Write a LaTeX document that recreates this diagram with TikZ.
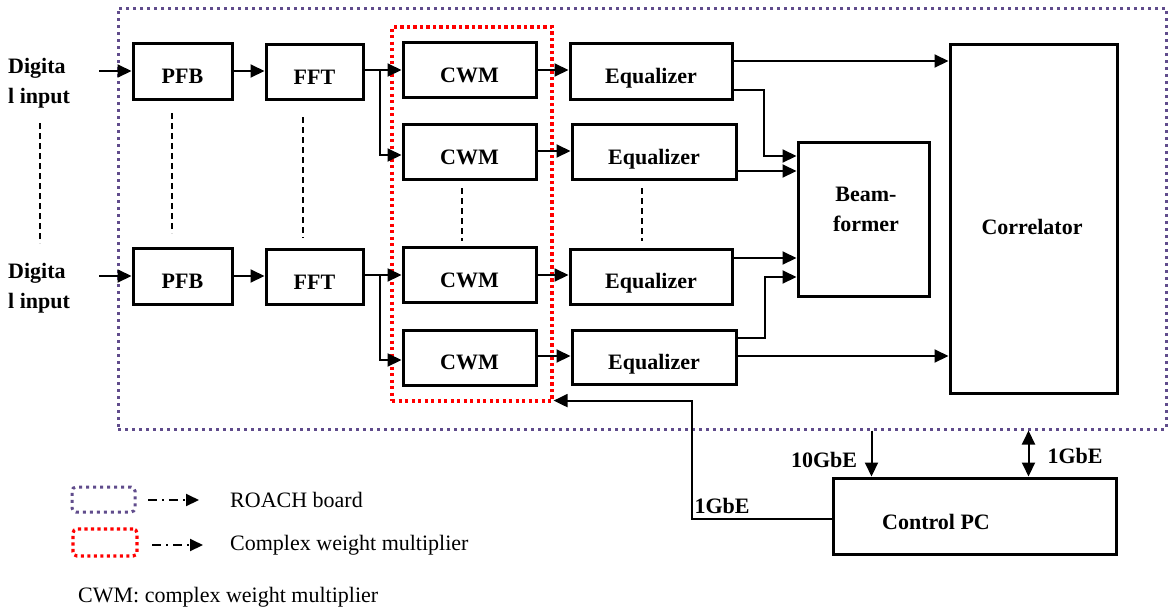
\documentclass[tikz,border=0pt]{standalone}
\usepackage{fontspec}
\setmainfont{Liberation Serif}
\usetikzlibrary{arrows.meta,calc}
\definecolor{roachc}{RGB}{96,76,140}
\definecolor{cwmred}{RGB}{255,0,0}
\begin{document}
\begin{tikzpicture}[x=1pt,y=-1pt,
  box/.style={draw, line width=3pt, inner sep=0pt, text height=24pt, text depth=0pt, font=\fontsize{22}{30}\selectfont\bfseries},
  lbl/.style={inner sep=0pt, font=\fontsize{22}{30}\selectfont\bfseries},
  rlbl/.style={inner sep=0pt, font=\fontsize{22}{30}\selectfont},
  tip/.style={Triangle[length=14pt,width=13pt]},
  conn/.style={line width=2pt, -{Triangle[length=14pt,width=13pt]}},
  dconn/.style={line width=2pt, {Triangle[length=14pt,width=13pt]}-{Triangle[length=14pt,width=13pt]}},
  vdash/.style={line width=1.5pt, dash pattern=on 6pt off 4pt},
  roachline/.style={draw=roachc, line width=3pt, dash pattern=on 3pt off 4pt},
  redline/.style={draw=cwmred, line width=3.2pt, dash pattern=on 3.2pt off 3.3pt},
  legarrow/.style={line width=2pt, dash pattern=on 9pt off 5pt on 2pt off 5pt, -{Triangle[length=13pt,width=12pt]}}
]
\useasboundingbox (0,0) rectangle (1169,614);

% group boxes
\node[roachline, minimum width=1048pt, minimum height=421pt, inner sep=0pt] (roach) at (642,218.5) {};
\node[redline, minimum width=160pt, minimum height=374pt, inner sep=0pt] (cwmgrp) at (472,214) {};

% inputs
\node[lbl, anchor=west, align=left] (din1) at (8,83) {Digita\\l input};
\node[lbl, anchor=west, align=left] (din2) at (8,288) {Digita\\l input};
\coordinate (in1) at (99,71);
\coordinate (in2) at (99,276);

% blocks
\node[box, minimum width=99pt, minimum height=56pt] (pfb1) at (182.5,71) {PFB};
\node[box, minimum width=97pt, minimum height=55pt] (fft1) at (314.5,72) {FFT};
\node[box, minimum width=99pt, minimum height=56pt] (pfb2) at (182.5,276) {PFB};
\node[box, minimum width=97pt, minimum height=55pt] (fft2) at (314.5,277) {FFT};

\node[box, minimum width=133pt, minimum height=55pt] (cwm1) at (469.5,70) {CWM};
\node[box, minimum width=133pt, minimum height=55pt] (cwm2) at (469.5,152) {CWM};
\node[box, minimum width=133pt, minimum height=55pt] (cwm3) at (469.5,275) {CWM};
\node[box, minimum width=133pt, minimum height=55pt] (cwm4) at (469.5,357.5) {CWM};

\node[box, minimum width=162pt, minimum height=56pt] (eq1) at (651,71) {Equalizer};
\node[box, minimum width=164pt, minimum height=55pt] (eq2) at (654,152) {Equalizer};
\node[box, minimum width=162pt, minimum height=55pt] (eq3) at (651,276.5) {Equalizer};
\node[box, minimum width=164pt, minimum height=54pt] (eq4) at (654,357.5) {Equalizer};

\node[box, minimum width=131pt, minimum height=154pt] (bf) at (863.5,219) {};
\node[lbl, align=center] (bftext) at (866,209) {Beam-\\former};
\node[box, minimum width=167pt, minimum height=349pt] (corr) at (1033.5,218.5) {};
\node[lbl] (corrtext) at (1032,227) {Correlator};

\node[box, minimum width=283pt, minimum height=76pt] (pc) at (974.5,516) {};
\node[lbl] (pctext) at (936,522) {Control PC};

% dashed continuation marks
\draw[vdash] (40,123) -- (40,243);
\draw[vdash] (172,113) -- (172,233);
\draw[vdash] (303,117) -- (303,238);
\draw[vdash] (462,188) -- (462,241);
\draw[vdash] (642,188) -- (642,241);

% input chain
\draw[conn] (in1) -- (in1 -| pfb1.west);
\draw[conn] (in2) -- (in2 -| pfb2.west);
\draw[conn] (pfb1.east) -- (pfb1.east -| fft1.west);
\draw[conn] (pfb2.east) -- (pfb2.east -| fft2.west);

% FFT to CWM
\coordinate (br1) at ($(fft1.east |- cwm1.west)+(15,0)$);
\coordinate (br2) at ($(fft2.east |- cwm3.west)+(15,0)$);
\draw[conn] (fft1.east |- cwm1.west) -- (cwm1.west);
\draw[conn] (br1) |- ($(cwm2.west)+(0,3)$);
\draw[conn] (fft2.east |- cwm3.west) -- (cwm3.west);
\draw[conn] (br2) |- ($(cwm4.west)+(0,2.5)$);

% CWM to Equalizer
\draw[conn] (cwm1.east) -- (cwm1.east -| eq1.west);
\draw[conn] ($(cwm2.east)+(0,-1)$) coordinate (c2) -- (c2 -| eq2.west);
\draw[conn] (cwm3.east) -- (cwm3.east -| eq3.west);
\draw[conn] ($(cwm4.east)+(0,-1.5)$) coordinate (c4) -- (c4 -| eq4.west);

% Equalizer outputs
\draw[conn] ($(eq1.east)+(0,-10)$) coordinate (e1a) -- (e1a -| corr.west);
\draw[conn] ($(eq1.east)+(0,19)$) -| ($(bf.west)+(-33,-63)$) -- ($(bf.west)+(0,-63)$);
\draw[conn] ($(eq2.east)+(0,19)$) coordinate (e2) -- (e2 -| bf.west);
\draw[conn] ($(eq3.east)+(0,-18.5)$) coordinate (e3) -- (e3 -| bf.west);
\draw[conn] ($(eq4.east)+(0,-20)$) -| ($(bf.west)+(-32,58)$) -- ($(bf.west)+(0,58)$);
\draw[conn] ($(eq4.east)+(0,-1.5)$) coordinate (e4) -- (e4 -| corr.west);

% control PC links
\coordinate (t10) at ($(pc.north west)+(40,0)$);
\coordinate (t1) at ($(pc.north west)+(197,0)$);
\draw[conn] (t10 |- roach.south) -- (t10);
\draw[dconn] (t1 |- roach.south) -- (t1);
\draw[conn] ($(pc.west)+(0,3)$) -| ($(cwmgrp.south east)+(138,-2)$) -- ($(cwmgrp.south east)+(0,-2)$);

\node[lbl] (l10) at (824,460) {10GbE};
\node[lbl] (l1a) at (1075,456) {1GbE};
\node[lbl] (l1b) at (722,506) {1GbE};

% legend
\node[roachline, rounded corners=4pt, minimum width=63pt, minimum height=25pt, inner sep=0pt] (legroach) at (103.5,499.5) {};
\node[redline, rounded corners=4pt, minimum width=64pt, minimum height=27pt, inner sep=0pt] (legred) at (105,542.5) {};
\coordinate (la1) at (148,500);
\coordinate (la2) at (199,500);
\coordinate (lb1) at (152,545);
\coordinate (lb2) at (203,545);
\draw[legarrow] (la1) -- (la2);
\draw[legarrow] (lb1) -- (lb2);
\node[rlbl, anchor=west] (legt1) at (230,500) {ROACH board};
\node[rlbl, anchor=west] (legt2) at (230,545) {Complex weight multiplier};
\node[rlbl, anchor=west] (note) at (78,597) {CWM: complex weight multiplier};
\end{tikzpicture}
\end{document}
